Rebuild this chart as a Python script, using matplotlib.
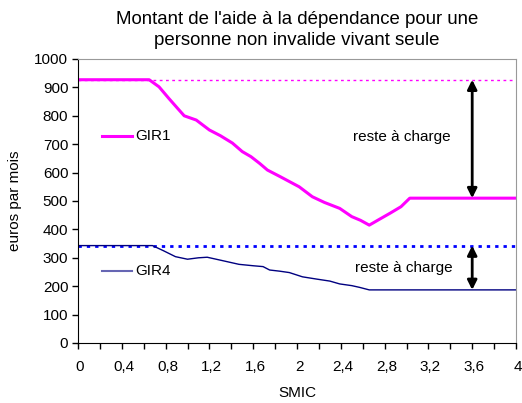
import matplotlib
matplotlib.use("Agg")
import matplotlib.pyplot as plt
import matplotlib.transforms as mtransforms
import numpy as np

plt.rcParams['font.family'] = ['Liberation Sans', 'DejaVu Sans']

# data
gir1_x = [0, 0.65, 0.74, 0.83, 0.91, 0.97, 1.08, 1.2, 1.3, 1.41, 1.5, 1.58, 1.66, 1.73, 1.85, 2.02, 2.14, 2.25, 2.39, 2.5, 2.58, 2.66, 2.75, 2.85, 2.95, 3.03, 3.2, 3.6, 4.0]
gir1_y = [927, 927, 902, 861, 826, 800, 785, 750, 730, 704, 674, 656, 632, 609, 585, 550, 515, 495, 474, 445, 432, 415, 435, 457, 480, 510, 510, 510, 510]
gir4_x = [0, 0.68, 0.78, 0.89, 1.0, 1.1, 1.18, 1.32, 1.47, 1.6, 1.69, 1.75, 1.84, 1.93, 2.05, 2.18, 2.3, 2.39, 2.5, 2.57, 2.66, 3.0, 3.6, 4.0]
gir4_y = [343, 343, 325, 304, 295, 300, 302, 290, 277, 272, 269, 257, 253, 248, 233, 225, 218, 208, 202, 196, 187, 187, 187, 187]
ref_gir1 = 927
ref_gir4 = 343
arrow_x = 3.6
gir1_floor = 510
gir4_floor = 187
title = "Montant de l'aide à la dépendance pour une\npersonne non invalide vivant seule"
xticks = np.round(np.arange(0, 4.01, 0.2), 1)
xlabels = [("%g" % t).replace('.', ',') if i % 2 == 0 else "" for i, t in enumerate(xticks)]

fig = plt.figure(figsize=(5.22, 4.03), dpi=100)
ax = fig.add_axes([78/522, (403-343)/403, (516-78)/522, (343-59)/403])

ax.axhline(ref_gir1, color='#FF00FF', lw=1, ls=(0, (2, 2.5)))
ax.axhline(ref_gir4, color='#0000FF', lw=2, ls=(0, (1.2, 1.8)))
ax.plot(gir1_x, gir1_y, color='#FF00FF', lw=2.2, solid_joinstyle='round')
ax.plot(gir4_x, gir4_y, color='#000080', lw=1)

ax.annotate('', xy=(arrow_x, ref_gir1), xytext=(arrow_x, gir1_floor),
            arrowprops=dict(arrowstyle='<|-|>', color='black', lw=2, mutation_scale=14, shrinkA=0, shrinkB=0))
ax.annotate('', xy=(arrow_x, ref_gir4), xytext=(arrow_x, gir4_floor),
            arrowprops=dict(arrowstyle='<|-|>', color='black', lw=2, mutation_scale=14, shrinkA=0, shrinkB=0))
ax.text(2.96, 725, "reste à charge", ha='center', va='center', fontsize=11)
ax.text(2.98, 264, "reste à charge", ha='center', va='center', fontsize=11)

# inline legend labels
ax.plot([0.22, 0.49], [729, 729], color='#FF00FF', lw=2.2)
ax.text(0.52, 729, "GIR1", ha='left', va='center', fontsize=11)
ax.plot([0.22, 0.49], [255, 255], color='#6666B3', lw=1.5)
ax.text(0.52, 255, "GIR4", ha='left', va='center', fontsize=11)

ax.set_xlim(0, 4)
ax.set_ylim(0, 1000)
ax.set_yticks(np.arange(0, 1001, 100))
ax.set_xticks(xticks)
ax.set_xticklabels(xlabels)
ax.tick_params(axis='both', direction='out', length=4, width=1, labelsize=11, color='black')
ax.tick_params(axis='x', pad=8)
ax.tick_params(axis='y', pad=3)
off = mtransforms.ScaledTranslation(2/100, 0, fig.dpi_scale_trans)
for lbl in ax.get_xticklabels():
    lbl.set_transform(lbl.get_transform() + off)
for s in ['top', 'right']:
    ax.spines[s].set_color('#999999')
for s in ['left', 'bottom']:
    ax.spines[s].set_color('black')

fig.text(297/522, 1 - 30/403, title, ha='center', va='center', fontsize=13.4, linespacing=1.32)
fig.text(15/522, 1 - 201/403, "euros par mois", rotation=90, ha='center', va='center', fontsize=11)
fig.text(297/522, 1 - 393/403, "SMIC", ha='center', va='center', fontsize=11)

fig.savefig("out.png", dpi=100)
